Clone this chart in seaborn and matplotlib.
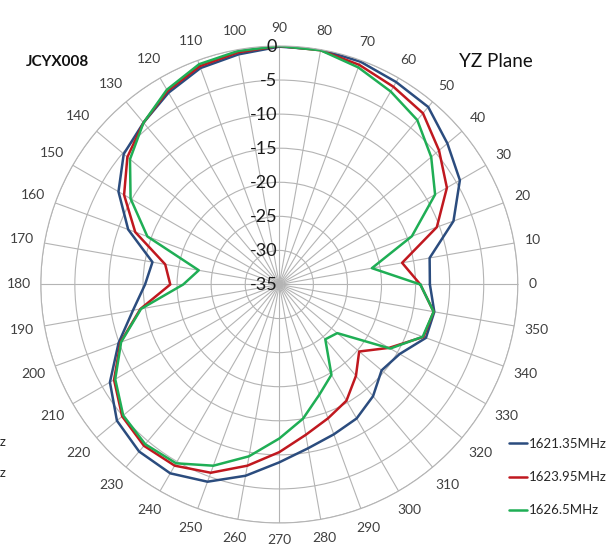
import numpy as np
import pandas as pd
import matplotlib
matplotlib.use("Agg")
import matplotlib.pyplot as plt
import seaborn as sns

# === Données (dB, tous les 10 degrés) ===
angles = list(range(0, 360, 10))

f1621 = [-12.9, -12.6, -7.8, -4.4, -2.8, -1.0, -0.7, -0.2, 0.0, -0.1,
         -0.7, -1.2, -2.5, -4.0, -5.2, -7.75, -11.4, -16.1, -15.3, -13.2,
         -9.9, -6.3, -3.9, -3.0, -3.0, -4.2, -6.5, -8.9, -10.6, -11.6,
         -12.3, -13.6, -15.4, -14.6, -12.1, -11.9]
f1623 = [-14.3, -16.7, -10.4, -6.6, -4.4, -2.2, -1.5, -0.7, -0.1, 0.0,
         -0.4, -0.9, -2.2, -4.0, -5.9, -8.7, -12.5, -18.0, -19.0, -14.3,
         -10.2, -7.0, -4.9, -4.1, -4.3, -5.6, -8.0, -10.4, -12.6, -14.1,
         -15.3, -17.5, -19.7, -16.4, -12.5, -12.0]
f1626 = [-14.3, -21.2, -14.3, -8.6, -5.9, -3.5, -2.3, -1.1, -0.1, 0.0,
         -0.2, -0.6, -2.0, -4.0, -6.4, -9.8, -14.4, -23.0, -20.9, -14.4,
         -10.3, -7.2, -5.1, -4.4, -4.7, -6.7, -9.4, -12.4, -15.0, -17.8,
         -19.7, -24.5, -23.9, -16.2, -12.6, -12.0]

series_names = ["1621.35MHz", "1623.95MHz", "1626.5MHz"]
series_values = [f1621, f1623, f1626]
colors = ["#2b4c7e", "#c0181f", "#1fae55"]
r_ticks = list(range(-35, 1, 5))

# === Style ===
sns.set_theme(style="white")
plt.rcParams['font.family'] = ['Lato', 'DejaVu Sans']

# === Table longue, boucle fermée ===
rows = []
for name, vals in zip(series_names, series_values):
    for a, v in zip(angles + [360], vals + [vals[0]]):
        rows.append({"theta": np.deg2rad(a), "gain": v, "freq": name})
df = pd.DataFrame(rows)

fig = plt.figure(figsize=(6.16, 5.5), dpi=100)
ax = fig.add_axes([0.0662, 0.0491, 0.7744, 0.8673], projection='polar')

sns.lineplot(data=df, x="theta", y="gain", hue="freq", palette=colors,
             sort=False, estimator=None, linewidth=1.8, ax=ax)

ax.set_theta_zero_location('E')
ax.set_theta_direction(1)
ax.set_ylim(-35, 0)
ax.set_xticks(np.deg2rad(angles))
ax.set_xticklabels([])
ax.set_yticks(r_ticks)
ax.set_yticklabels([])
ax.set_xlabel("")
ax.set_ylabel("")
ax.grid(True, color="#b4b4b4", linewidth=0.8)
ax.spines['polar'].set_color("#b4b4b4")
ax.spines['polar'].set_linewidth(0.8)

# === Étiquettes des angles ===
for a in angles:
    t = np.deg2rad(a)
    lab = str(a)
    w = len(lab) * 7.4
    h = 13
    d = 11 + abs(np.cos(t)) * w / 2 + abs(np.sin(t)) * h / 2
    ax.annotate(lab, xy=(t, 0), xytext=(np.cos(t) * d, np.sin(t) * d),
                textcoords='offset pixels', ha='center', va='center',
                fontsize=10, color="#404040", annotation_clip=False)

# === Étiquettes radiales ===
for v in r_ticks:
    ax.annotate(str(v), xy=(np.pi / 2, v), xytext=(-2, -1),
                textcoords='offset pixels', ha='right', va='center',
                fontsize=13, color="#1a1a1a", annotation_clip=False)

# === Légende ===
leg = ax.legend(loc='upper left', bbox_to_anchor=(0.826, 0.2035),
                bbox_transform=fig.transFigure, frameon=False, fontsize=9.5,
                handlelength=1.4, handletextpad=0.15, labelspacing=1.6,
                borderpad=0, borderaxespad=0)

# === Titres ===
fig.text(26 / 616, 0.887, "JCYX008", fontsize=11, fontweight='bold',
         ha='left', va='center', color="#111111")
fig.text(459 / 616, 0.888, "YZ Plane", fontsize=13.5, ha='left', va='center',
         color="#111111")

# restes d'un autre graphique coupé à gauche
fig.text(7 / 616, (550 - 442) / 550, "1621.35MHz", fontsize=9.5, ha='right', va='center')
fig.text(7 / 616, (550 - 473) / 550, "1623.95MHz", fontsize=9.5, ha='right', va='center')

fig.savefig("out.png", dpi=100)
